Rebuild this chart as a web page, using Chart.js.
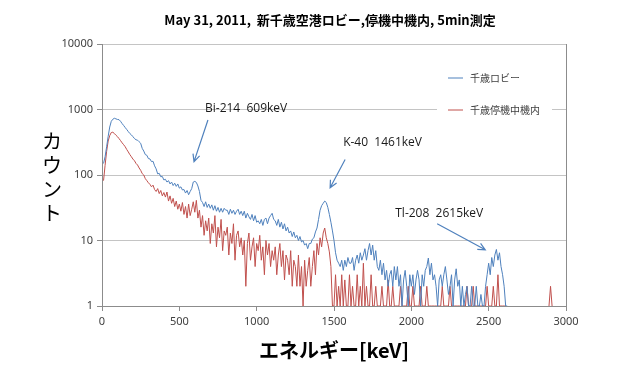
<!DOCTYPE html>
<html lang="ja">
<head>
<meta charset="utf-8">
<title>May 31, 2011 新千歳空港ロビー,停機中機内</title>
<script src="https://cdn.jsdelivr.net/npm/chart.js@4.4.1/dist/chart.umd.min.js"></script>
<style>
  html, body { margin: 0; padding: 0; background: #fff; }
  #wrap { width: 640px; height: 370px; }
</style>
</head>
<body>
<div id="wrap"><canvas id="spectrum" width="640" height="370"></canvas></div>
<script>
// channel width of the spectrum (keV), counts start at the first channel
const CHANNEL_KEV = 10;

const SERIES_NAMES = ['千歳ロビー', '千歳停機中機内'];

// 千歳ロビー : counts per channel, 10 keV .. 2620 keV
const LOBBY_COUNTS = [
  150, 190, 270, 390, 540, 660, 710, 735, 720, 705,
  700, 660, 610, 570, 530, 495, 460, 430, 410, 385,
  360, 345, 340, 322, 305, 255, 232, 205, 200, 178,
  176, 160, 162, 138, 124, 104, 106, 94, 95, 84,
  86, 78, 82, 73, 78, 69, 75, 67, 73, 63,
  66, 59, 60, 53, 58, 50, 56, 62, 78, 80,
  77, 68, 56, 41, 38, 33, 39, 32, 36, 31,
  35, 29, 34, 28, 32, 27, 31, 27, 31, 29,
  29, 25, 30, 26, 29, 25, 28, 30, 25, 28,
  24, 28, 22, 26, 23, 21, 25, 20, 24, 19,
  20, 18, 21, 17, 21, 22, 18, 22, 24, 26,
  21, 20, 17, 21, 16, 19, 15, 18, 14, 16,
  13, 14, 11.5, 13.5, 11, 12, 10, 11.5, 9.5, 10,
  8.5, 9, 7.5, 9, 9, 10.5, 11, 13.5, 15.5, 21,
  29, 34, 37, 40, 38, 32, 25, 19, 14, 10,
  6.5, 5, 4.5, 4, 5, 3.5, 5, 4, 5.5, 4.5,
  4.5, 5.5, 3.5, 5, 6, 4.5, 6.5, 5, 6, 7.5,
  5, 7, 9, 6, 8.5, 5, 7, 4, 3.5, 5,
  3, 4.5, 2.5, 3.5, 2, 3, 3.5, 2, 4, 2.5,
  4, 2, 3, 1, 2.5, 3.5, 2, 1, 3, 2,
  3, 1.5, 2.5, 3.5, 2.5, 1, 3, 2, 3.5, 4,
  5.4, 3, 4.5, 2.5, 3, 2, 1, 2.5, 3, 2,
  3, 4, 2.5, 1.5, 2, 3, 1, 2.5, 3.7, 2,
  2.5, 1, 2, 1, 1.5, 2, 1, 1, 2, 1,
  1, 2, 1, 1, 1.5, 1, 1, 2, 3, 4.5,
  3, 5.5, 4, 6, 7.3, 5, 6.5, 4, 3, 2,
  1, 1
];

// 千歳停機中機内 : counts per channel, 10 keV .. 2910 keV (null = nothing recorded)
const CABIN_COUNTS = [
  82, 140, 230, 330, 400, 445, 450, 430, 405, 385,
  360, 335, 310, 290, 270, 245, 225, 205, 190, 175,
  165, 150, 142, 128, 118, 105, 100, 88, 82, 76,
  72, 66, 70, 60, 56, 62, 52, 58, 48, 54,
  46, 55, 40, 48, 37, 44, 33, 40, 30, 36,
  28, 38, 25, 33, 22, 36, 24, 30, 39, 27,
  41, 22, 29, 16, 24, 12, 20, 14, 22, 9,
  18, 13, 24, 8, 16, 11, 21, 7, 14, 12,
  16, 6, 13, 9, 18, 5, 12, 14, 8, 11,
  6, 10, 2, 9, 13, 5, 8, 11, 4, 9,
  7, 12, 5, 8, 3, 10, 6, 9, 4, 7,
  5, 8, 3, 6, 9, 4, 7, 2.5, 6, 5,
  3, 7, 2, 5, 4, 2, 6, 2, 4, 1,
  5, 2, 3.5, 5.5, 2, 4, 7, 3, 9, 6,
  11, 8, 13, 15.5, 11, 9, 6.7, 4, 1, 1,
  3, 1, 2, 1, 3, 1, 2.5, 1, 1, 3,
  1, 2, 1, 1, 3, 1, 2, 1, 4.5, 1,
  2, 1, 1, 3, 1, 1, 2, 1, 1, 1,
  2, 1, 1, 1, 2.5, 1, 1, 2, 1, 1,
  1, 1, 2, 1, 1, 1, 1, 2, 1, 1,
  2, 1, 1, 1, 1, 2, 1, 1, 1, 2,
  1, 1, 1, 1, 1, 1, 1, 1, 1, 2,
  1, 1, 1, 1, 2, 1, 1, 1, 1, 1,
  1, 1, 1, 1, 1, 2, 1, 1, 1, 2,
  1, 1, 1, 1, 1, 1, 1, 1, 2, 1,
  1, 1, 2, 1, 1, 3, 1, 1, 1, 1,
  1, null, null, null, null, null, null, null, null, null,
  null, null, null, null, null, null, null, null, null, null,
  null, null, null, null, null, null, null, null, 1, 2,
  1
];

const X_TICKS = [0, 500, 1000, 1500, 2000, 2500, 3000];
const Y_TICKS = [1, 10, 100, 1000, 10000];

const TITLE = 'May 31, 2011,  新千歳空港ロビー,停機中機内, 5min測定';
const X_TITLE = 'エネルギー[keV]';
const Y_TITLE = 'カウント';

const PEAK_LABELS = ['Bi-214  609keV', 'K-40  1461keV', 'Tl-208  2615keV'];
// [text keV, text count, arrow from keV, from count, arrow to keV, to count]
const PEAK_MARKS = [
  [666, 1050, 685, 690, 595, 160],
  [1559, 308, 1572, 172, 1475, 64],
  [1896, 26, 2167, 18, 2478, 7.2],
];

const BLUE = '#4F81BD';
const RED = '#C0504D';
const JP = '"Noto Sans CJK JP", "Noto Sans", sans-serif';

const toPoints = (counts) => counts.map((c, i) => ({ x: (i + 1) * CHANNEL_KEV, y: c }));

const decorations = {
  id: 'decorations',
  afterDatasetsDraw(chart) {
    const { ctx, chartArea: a, scales: { x, y } } = chart;
    ctx.save();

    // legend inside the plot area
    ctx.fillStyle = '#fff';
    ctx.fillRect(a.right - 129, a.top + 20, 115, 58);
    [BLUE, RED].forEach((col, i) => {
      const ly = a.top + 34 + i * 32;
      ctx.strokeStyle = col;
      ctx.lineWidth = 1;
      ctx.beginPath();
      ctx.moveTo(a.right - 118, ly);
      ctx.lineTo(a.right - 103, ly);
      ctx.stroke();
      ctx.fillStyle = '#404040';
      ctx.font = '10px ' + JP;
      ctx.textBaseline = 'middle';
      ctx.textAlign = 'left';
      ctx.fillText(SERIES_NAMES[i], a.right - 96, ly);
    });

    // peak labels with arrows
    PEAK_LABELS.forEach((text, i) => {
      const [tk, tc, fk, fc, ek, ec] = PEAK_MARKS[i];
      ctx.fillStyle = '#1a1a1a';
      ctx.font = '12px "Open Sans", "Noto Sans", sans-serif';
      ctx.textBaseline = 'middle';
      ctx.textAlign = 'left';
      ctx.fillText(text, x.getPixelForValue(tk), y.getPixelForValue(tc));

      const x0 = x.getPixelForValue(fk), y0 = y.getPixelForValue(fc);
      const x1 = x.getPixelForValue(ek), y1 = y.getPixelForValue(ec);
      const ang = Math.atan2(y1 - y0, x1 - x0);
      ctx.strokeStyle = BLUE;
      ctx.lineWidth = 1.2;
      ctx.beginPath();
      ctx.moveTo(x0, y0);
      ctx.lineTo(x1, y1);
      ctx.moveTo(x1 - 8 * Math.cos(ang - 0.45), y1 - 8 * Math.sin(ang - 0.45));
      ctx.lineTo(x1, y1);
      ctx.lineTo(x1 - 8 * Math.cos(ang + 0.45), y1 - 8 * Math.sin(ang + 0.45));
      ctx.stroke();
    });
    ctx.restore();
  },
  afterDraw(chart) {
    // vertical (stacked) y axis title
    const { ctx, chartArea: a } = chart;
    ctx.save();
    ctx.fillStyle = '#000';
    ctx.font = '20px ' + JP;
    ctx.textAlign = 'center';
    ctx.textBaseline = 'middle';
    [...Y_TITLE].forEach((ch, i) => ctx.fillText(ch, 52, a.top + 97 + i * 24));
    ctx.restore();
  }
};

const logTicks = (s) => { s.ticks = Y_TICKS.map(v => ({ value: v })); };

new Chart(document.getElementById('spectrum'), {
  type: 'line',
  data: {
    datasets: [
      { label: SERIES_NAMES[0], data: toPoints(LOBBY_COUNTS), borderColor: BLUE, borderWidth: 1, pointRadius: 0, tension: 0 },
      { label: SERIES_NAMES[1], data: toPoints(CABIN_COUNTS), borderColor: RED, borderWidth: 1, pointRadius: 0, tension: 0 },
    ]
  },
  options: {
    responsive: false,
    animation: false,
    layout: { padding: { left: 20, right: 0, top: 0, bottom: 0 } },
    plugins: {
      legend: { display: false },
      tooltip: { enabled: false },
      title: {
        display: true, text: TITLE, color: '#000',
        font: { family: JP, size: 13, weight: 'bold' },
        padding: { top: 12, bottom: 16.4 }
      }
    },
    scales: {
      x: {
        type: 'linear', min: 0, max: 3000,
        afterBuildTicks: s => { s.ticks = X_TICKS.map(v => ({ value: v })); },
        afterFit: s => { s.height = 64; },
        ticks: { color: '#404040', font: { family: '"Noto Sans", sans-serif', size: 11 }, padding: 4, maxRotation: 0, callback: v => String(v) },
        grid: { drawOnChartArea: false, tickLength: 5, color: '#8c8c8c' },
        border: { color: '#8c8c8c' },
        title: {
          display: true, text: X_TITLE, color: '#000',
          font: { family: JP, size: 20, weight: 'bold' },
          padding: { top: 0, bottom: 8 }
        }
      },
      y: {
        type: 'logarithmic', min: 1, max: 10000,
        afterBuildTicks: logTicks,
        afterFit: s => { s.width = 82; },
        ticks: { color: '#404040', font: { family: '"Noto Sans", sans-serif', size: 11 }, padding: 4, callback: v => String(v) },
        grid: { color: '#c4c4c4', tickColor: '#8c8c8c', tickLength: 5 },
        border: { color: '#8c8c8c' }
      },
      y2: {
        type: 'logarithmic', position: 'right', min: 1, max: 10000,
        afterBuildTicks: logTicks,
        afterFit: s => { s.width = 74; },
        ticks: { display: false },
        grid: { drawOnChartArea: false, drawTicks: false },
        border: { color: '#8c8c8c' }
      }
    }
  },
  plugins: [decorations]
});
</script>
</body>
</html>
